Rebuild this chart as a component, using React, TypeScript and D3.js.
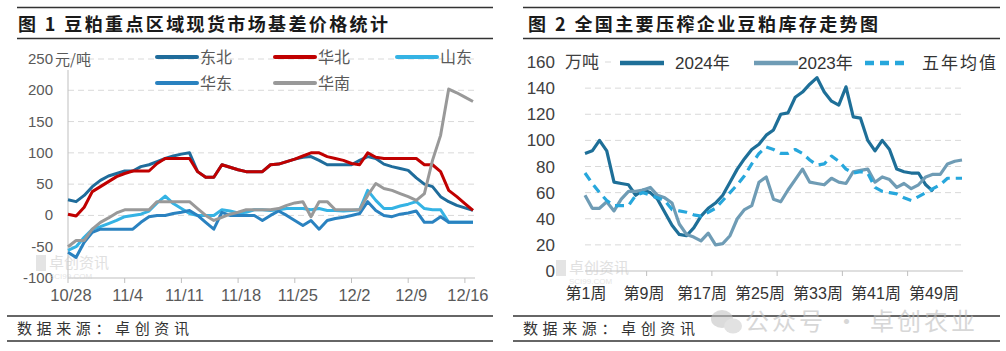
import * as d3 from 'd3';

// 图1：豆粕重点区域现货市场基差（元/吨），10/28 - 12/17 逐日
const dongbei = [25, 22, 32, 46, 56, 63, 67, 71, 71, 78, 81, 86, 91, 95, 98, 100, 70, 61, 61, 81, 77, 73, 70, 70, 70, 81, 82, 86, 90, 93, 94, 88, 81, 81, 81, 81, 88, 94, 91, 82, 78, 75, 72, 60, 50, 46, 30, 22, 16, 12, 8];
const huabei = [2, -1, 13, 38, 46, 54, 62, 67, 71, 71, 71, 83, 91, 91, 91, 91, 70, 61, 61, 81, 77, 73, 70, 70, 70, 81, 82, 86, 90, 95, 100, 100, 94, 91, 88, 83, 81, 100, 93, 91, 91, 91, 91, 91, 81, 81, 70, 40, 30, 19, 8];
const shandong = [-56, -50, -35, -22, -18, -13, -8, -2, 0, 2, 7, 20, 31, 19, 11, 3, 0, 0, 0, 9, 7, 4, 5, 9, 9, 8, 9, 11, 11, 11, 9, 11, 8, 8, 7, 8, 9, 40, 24, 11, 11, 15, 18, 22, 11, 9, 9, -11, -11, -11, -11];
const huadong = [-59, -67, -43, -27, -22, -22, -22, -22, -22, -11, -2, 0, 0, 3, 5, 8, 0, -11, -22, 5, 0, 0, 0, 0, -8, 0, 7, 0, -8, -16, -8, -22, -8, -5, -3, 0, 3, 22, 8, 0, -2, 2, 4, 7, -11, -11, -2, -11, -11, -11, -11];
const huanan = [-50, -40, -40, -22, -11, -4, 4, 9, 9, 9, 9, 22, 22, 22, 22, 22, 11, 0, -8, -3, 2, 5, 9, 9, 9, 9, 11, 16, 20, 22, -2, 22, 22, 9, 9, 9, 9, 32, 51, 43, 40, 35, 30, 24, 35, 88, 128, 202, 196, 189, 182];
const leftTickLabels = ['10/28', '11/4', '11/11', '11/18', '11/25', '12/2', '12/9', '12/16'];
const leftYTicks = [-100, -50, 0, 50, 100, 150, 200, 250];

// 图2：全国主要压榨企业豆粕库存（万吨），按周
const inv2024 = [90, 92, 100, 92, 68, 67, 66, 58, 62, 60, 55, 45, 35, 28, 27, 33, 42, 48, 52, 58, 68, 78, 86, 93, 97, 104, 108, 120, 121, 133, 137, 143, 148, 137, 130, 127, 141, 118, 117, 100, 92, 100, 93, 78, 76, 75, 75, 66, 61];
const inv2023 = [58, 48, 48, 53, 46, 55, 61, 61, 62, 64, 58, 56, 52, 36, 28, 26, 23, 29, 20, 21, 27, 40, 47, 50, 68, 72, 55, 53, 62, 70, 78, 68, 67, 66, 71, 68, 67, 76, 77, 78, 68, 72, 70, 64, 67, 63, 66, 72, 74, 74, 82, 84, 85];
const fiveYear = [75, 67, 60, 54, 50, 50, 50, 58, 60, 58, 56, 54, 47, 46, 45, 43, 42, 45, 48, 54, 60, 66, 73, 82, 90, 95, 93, 90, 90, 93, 90, 85, 81, 82, 88, 84, 78, 75, 76, 75, 64, 61, 60, 59, 56, 54, 57, 60, 63, 66, 71, 71, 71];
const weekLabels = ['第1周', '第9周', '第17周', '第25周', '第33周', '第41周', '第49周'];
const rightYTicks = [0, 20, 40, 60, 80, 100, 120, 140, 160];

const FONT = "'Liberation Sans', 'Noto Sans CJK SC', sans-serif";
const CJK = "'Noto Sans CJK SC', sans-serif";
const TXT = '#595959';
const GRID = '#d9d9d9';

const days = d3.timeDay.range(new Date(2024, 9, 28), new Date(2024, 11, 18));
const parseMD = (s: string) => {
  const [m, d] = s.split('/').map(Number);
  return new Date(2024, m - 1, d);
};

const leftSeries = [
  { name: '东北', values: dongbei, color: '#1f6c9b' },
  { name: '华北', values: huabei, color: '#c00000' },
  { name: '山东', values: shandong, color: '#35b3e4' },
  { name: '华东', values: huadong, color: '#2a82c0' },
  { name: '华南', values: huanan, color: '#999999' },
];

const rightSeries = [
  { name: '2024年', values: inv2024, color: '#1e6f98', dashed: false, lx: 620, tx: 675 },
  { name: '2023年', values: inv2023, color: '#6f9cb5', dashed: false, lx: 754, tx: 798 },
  { name: '五年均值', values: fiveYear, color: '#27a7dc', dashed: true, lx: 865, tx: 922 },
];

function Frame({ x0, x1, title, tx, tw }: { x0: number; x1: number; title: string; tx: number; tw: number }) {
  return (
    <g>
      <line x1={x0 + 10} x2={x1} y1={7.5} y2={7.5} stroke="#333" strokeWidth={1.5} />
      <text x={tx} y={31} fontFamily={CJK} fontWeight={700} fontSize={18} fill="#1a1a1a" textLength={tw} lengthAdjust="spacing">
        {title}
      </text>
      <line x1={x0 + 10} x2={x1} y1={38.5} y2={38.5} stroke="#333" strokeWidth={1.5} />
      <line x1={x0} x2={x1} y1={316} y2={316} stroke="#333" strokeWidth={1.5} />
      <text x={x0 + 10} y={334} fontFamily={CJK} fontSize={15} fill="#333" textLength={172} lengthAdjust="spacing">
        数据来源：卓创资讯
      </text>
      <line x1={x0} x2={x1} y1={341} y2={341} stroke="#333" strokeWidth={1.5} />
    </g>
  );
}

function Watermark({ x, y }: { x: number; y: number }) {
  return (
    <g opacity={0.55}>
      <rect x={x} y={y - 13} width={10} height={16} fill="#cfcfcf" />
      <text x={x + 13} y={y} fontFamily={CJK} fontSize={15} fill="#c8c8c8">卓创资讯</text>
      <text x={x + 13} y={y + 11} fontFamily={FONT} fontSize={8} fill="#d0d0d0">SCI99.COM</text>
    </g>
  );
}

function LeftChart() {
  const x = d3.scaleTime().domain([days[0], days[days.length - 1]]).range([68, 473]);
  const y = d3.scaleLinear().domain([-100, 250]).range([278, 59]);
  const line = d3
    .line<number>()
    .x((_, i) => x(days[i]))
    .y((d) => y(d));
  const legend = [
    { s: leftSeries[0], lx: 157, ly: 57 },
    { s: leftSeries[1], lx: 275, ly: 57 },
    { s: leftSeries[2], lx: 397, ly: 57 },
    { s: leftSeries[3], lx: 157, ly: 83 },
    { s: leftSeries[4], lx: 275, ly: 83 },
  ];
  return (
    <g clipPath="url(#clipL)">
      {leftYTicks.map((t) => (
        <g key={t}>
          {t > -100 && (
            <line x1={68} x2={475} y1={y(t)} y2={y(t)} stroke={GRID} strokeDasharray="6 4" />
          )}
          <text x={53} y={y(t) + 5} textAnchor="end" fontFamily={FONT} fontSize={15} fill={TXT}>
            {t}
          </text>
        </g>
      ))}
      <text x={55} y={65} fontFamily={CJK} fontSize={15} fill={TXT}>元/吨</text>
      <line x1={68} x2={68} y1={70} y2={278} stroke="#bfbfbf" />
      <line x1={68} x2={475} y1={278} y2={278} stroke="#bfbfbf" />
      {leftTickLabels.map((l) => {
        const px = x(parseMD(l));
        return (
          <g key={l}>
            <line x1={px} x2={px} y1={278} y2={283} stroke="#bfbfbf" />
            <text x={px + 3} y={301} textAnchor="middle" fontFamily={FONT} fontSize={16.5} fill={TXT}>
              {l}
            </text>
          </g>
        );
      })}
      <Watermark x={36} y={268} />
      {leftSeries.map((s) => (
        <path key={s.name} d={line(s.values) ?? ''} fill="none" stroke={s.color} strokeWidth={3} strokeLinejoin="round" />
      ))}
      {legend.map(({ s, lx, ly }) => (
        <g key={s.name}>
          <line x1={lx} x2={lx + 40} y1={ly} y2={ly} stroke={s.color} strokeWidth={4} strokeLinecap="round" />
          <text x={lx + 43} y={ly + 6} fontFamily={CJK} fontSize={16} fill={TXT}>
            {s.name}
          </text>
        </g>
      ))}
    </g>
  );
}

function RightChart() {
  const x = d3.scaleLinear().domain([1, 53]).range([585, 962]);
  const y = d3.scaleLinear().domain([0, 160]).range([271, 62]);
  const line = d3
    .line<number>()
    .x((_, i) => x(i + 1))
    .y((d) => y(d));
  return (
    <g>
      {rightYTicks.map((t) => (
        <g key={t}>
          {t > 0 && <line x1={585} x2={963} y1={y(t)} y2={y(t)} stroke={GRID} strokeDasharray="6 4" />}
          <text x={555} y={y(t) + 6} textAnchor="end" fontFamily={FONT} fontSize={17} fill="#404040">
            {t}
          </text>
        </g>
      ))}
      <rect x={561} y={50} width={40} height={22} fill="#fff" />
      <text x={565} y={68} fontFamily={CJK} fontSize={17} fill="#404040">万吨</text>
      <line x1={585} x2={963} y1={271} y2={271} stroke="#bfbfbf" />
      {[9.5, 18.5, 27.5, 36.5, 45.5].map((t) => (
        <line key={t} x1={x(t)} x2={x(t)} y1={271} y2={276} stroke="#bfbfbf" />
      ))}
      {weekLabels.map((l) => {
        const w = Number(l.replace(/\D/g, ''));
        return (
          <text key={l} x={x(w) + 1} y={299} textAnchor="middle" fontFamily={FONT} fontSize={16} fill="#333">
            {l}
          </text>
        );
      })}
      <Watermark x={556} y={273} />
      {rightSeries.map((s) => (
        <path
          key={s.name}
          d={line(s.values) ?? ''}
          fill="none"
          stroke={s.color}
          strokeWidth={3.2}
          strokeDasharray={s.dashed ? '9 6' : undefined}
          strokeLinejoin="round"
        />
      ))}
      <rect x={614} y={53} width={380} height={20} fill="#fff" />
      {rightSeries.map((s) => (
        <g key={'lg' + s.name}>
          <path
            d={`M${s.lx},63H${s.lx + 44}`}
            stroke={s.color}
            strokeWidth={4.5}
            strokeDasharray={s.dashed ? '9 6' : undefined}
          />
          <text
            x={s.tx}
            y={69}
            fontFamily={FONT}
            fontSize={17}
            fill="#333"
            textLength={s.dashed ? 74 : undefined}
            lengthAdjust="spacing"
          >
            {s.name}
          </text>
        </g>
      ))}
    </g>
  );
}

export default function App() {
  return (
    <svg
      width={1006}
      height={351}
      viewBox="0 0 1006 351"
      style={{ position: 'absolute', left: 0, top: 0, background: '#fff' }}
    >
      <defs>
        <clipPath id="clipL">
          <rect x={0} y={40} width={497} height={270} />
        </clipPath>
      </defs>
      <rect width={1006} height={351} fill="#fff" />
      <Frame x0={7} x1={493} title="图 1  豆粕重点区域现货市场基差价格统计" tx={18} tw={370} />
      <Frame x0={513} x1={1000} title="图 2  全国主要压榨企业豆粕库存走势图" tx={528} tw={350} />
      <LeftChart />
      <RightChart />
      <g opacity={0.6}>
        <ellipse cx={722} cy={319} rx={11} ry={9} fill="#c4c4c4" />
        <ellipse cx={733} cy={326} rx={9} ry={7.5} fill="#cfcfcf" />
        <text x={745} y={330} fontFamily={CJK} fontSize={24} fill="#bdbdbd" textLength={230} lengthAdjust="spacing">
          公众号 · 卓创农业
        </text>
      </g>
    </svg>
  );
}
